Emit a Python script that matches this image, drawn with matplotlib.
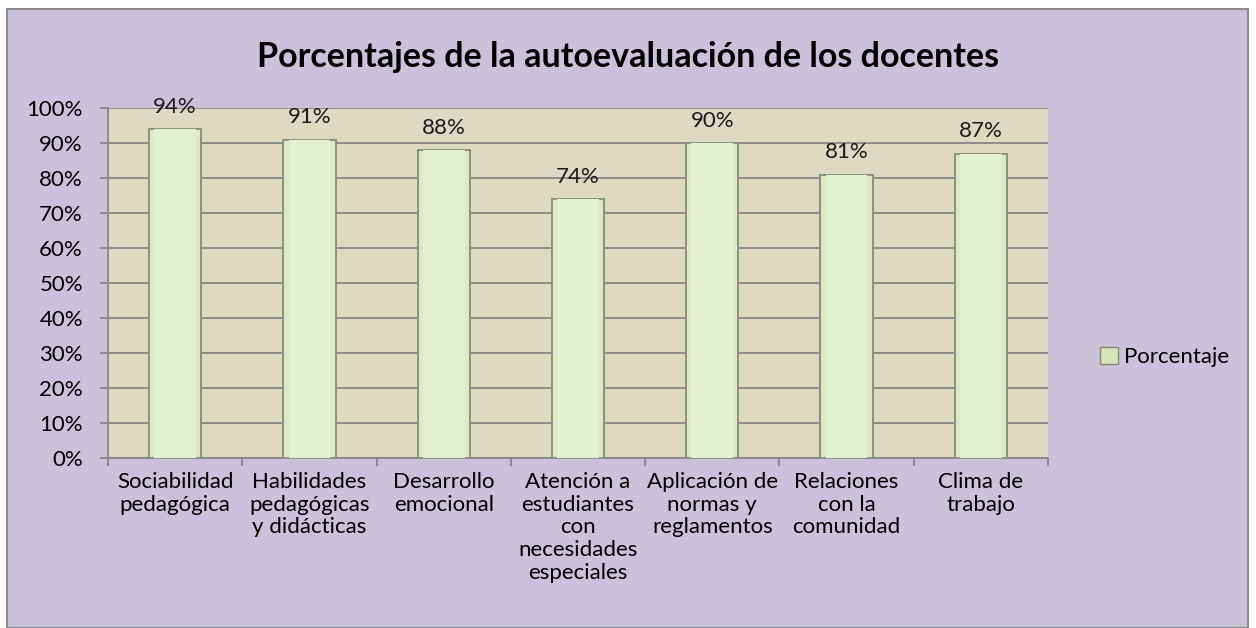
import numpy as np
import matplotlib.pyplot as plt
from matplotlib.patches import Rectangle, Patch

plt.rcParams['font.family'] = ['Lato', 'DejaVu Sans']

categories = ['Sociabilidad\npedagógica', 'Habilidades\npedagógicas\ny didácticas',
              'Desarrollo\nemocional', 'Atención a\nestudiantes\ncon\nnecesidades\nespeciales',
              'Aplicación de\nnormas y\nreglamentos', 'Relaciones\ncon la\ncomunidad',
              'Clima de\ntrabajo']
values = [94, 91, 88, 74, 90, 81, 87]
series_name = 'Porcentaje'

fig = plt.figure(figsize=(12.56, 6.28), dpi=100)
fig.patch.set_facecolor('white')
fig.patches.append(Rectangle((7 / 1256, 0), 1241 / 1256, 619 / 628, transform=fig.transFigure,
                             facecolor='#CCC1DA', edgecolor='#8C8C8C', linewidth=1.5, zorder=-10))

ax = fig.add_axes([108 / 1256, 1 - 458 / 628, 940 / 1256, 350 / 628])
ax.set_facecolor('#DDD9C3')

x = np.arange(len(categories))
ax.bar(x, values, width=0.39, color='#DCE9C2', edgecolor='#8A927C', linewidth=1.4, zorder=3)
ax.bar(x, values, width=0.31, color='#E4F1D0', edgecolor='none', zorder=4)

for xi, v in zip(x, values):
    ax.text(xi, v + 3.5, f'{v}%', ha='center', va='bottom', fontsize=16, color='#1a1a1a', zorder=5)

ax.set_xlim(-0.5, len(categories) - 0.5)
ax.set_ylim(0, 100)
ax.set_yticks(np.arange(0, 101, 10))
ax.set_yticklabels([f'{t}%' for t in range(0, 101, 10)], fontsize=16)
ax.yaxis.grid(True, color='#868686', linewidth=1.3, zorder=0)
ax.set_axisbelow(True)

ax.set_xticks(x)
ax.set_xticklabels(categories, fontsize=16, va='top', linespacing=1.17)
ax.tick_params(axis='x', length=0, pad=10)
ax.set_xticks(np.arange(-0.5, len(categories)), minor=True)
ax.tick_params(axis='x', which='minor', length=6, color='#868686', width=1.3)
ax.tick_params(axis='y', length=6, color='#868686', width=1.3, pad=12)

for s in ['top', 'right']:
    ax.spines[s].set_visible(False)
for s in ['left', 'bottom']:
    ax.spines[s].set_color('#868686')
    ax.spines[s].set_linewidth(1.3)

fig.text(0.5, 1 - 57 / 628, 'Porcentajes de la autoevaluación de los docentes',
         ha='center', va='center', fontsize=24.5, fontweight='bold')

handle = Patch(facecolor='#D5E5B8', edgecolor='#7F8A6E', label=series_name)
fig.legend(handles=[handle], loc='center left', bbox_to_anchor=(1080 / 1256, 1 - 357 / 628),
           frameon=False, fontsize=16, handlelength=0.8, handleheight=0.8, handletextpad=0.3)

fig.savefig('out.png', dpi=100)
